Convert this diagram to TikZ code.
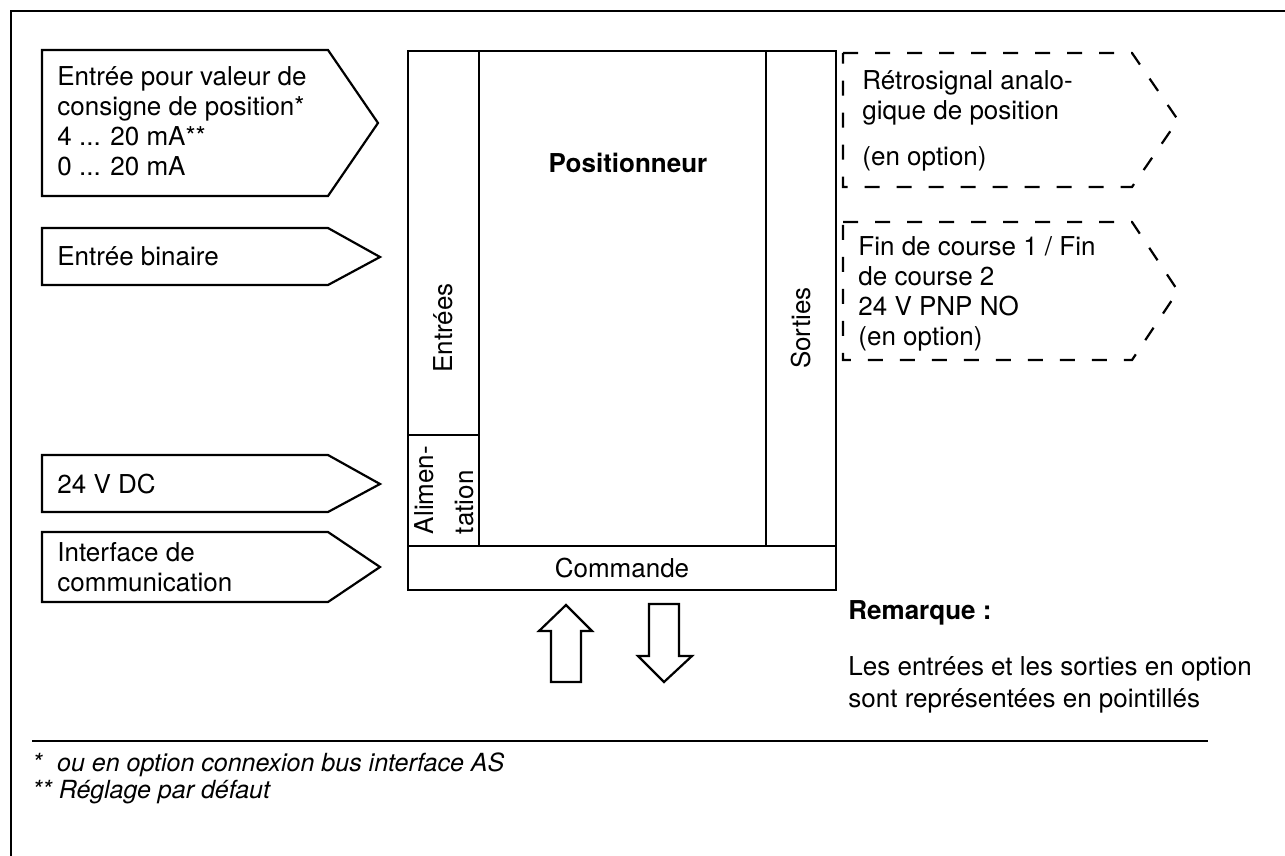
\documentclass[tikz,border=0pt]{standalone}
\usepackage{fontspec}
\setmainfont{TeX Gyre Heros}
\begin{document}
\begin{tikzpicture}[x=0.5pt,y=-0.5pt,
    box/.style={line width=1.1pt,line join=miter},
    optbox/.style={line width=1.1pt,dash pattern=on 7.5pt off 8.5pt},
    txt/.style={anchor=west,inner sep=0pt,align=left,font=\fontsize{13}{15}\selectfont},
    note/.style={anchor=west,inner sep=0pt,font=\fontsize{12.5}{15}\selectfont\itshape}]
  \useasboundingbox (0,0) rectangle (1285,856);
  \draw[line width=0.8pt] (11,856) -- (11,11) -- (1285,11);

  % inputs on the left
  \draw[box] (42,50) -- (328,50) -- (378,123) -- (328,196) -- (42,196) -- cycle;
  \node[txt] (setpoint) at (57,121) {Entrée pour valeur de\\consigne de position*\\4 ... 20 mA**\\0 ... 20 mA};
  \draw[box] (42,228) -- (328,228) -- (380,257) -- (328,285) -- (42,285) -- cycle;
  \node[txt] (binary) at (57,256) {Entrée binaire};
  \draw[box] (42,455) -- (328,455) -- (380,484) -- (328,512) -- (42,512) -- cycle;
  \node[txt] (supply) at (57,484) {24 V DC};
  \draw[box] (42,532) -- (328,532) -- (380,567) -- (328,602) -- (42,602) -- cycle;
  \node[txt] (comm) at (57,567) {Interface de\\communication};

  % positioner block
  \draw[box] (408,51) rectangle (836,590);
  \draw[box] (479,51) -- (479,546);
  \draw[box] (766,51) -- (766,546);
  \draw[box] (408,435) -- (479,435);
  \draw[box] (408,546) -- (836,546);
  \node[font=\fontsize{13}{15}\selectfont\bfseries] (posi) at (628,163) {Positionneur};
  \node[font=\fontsize{13}{15}\selectfont,rotate=90] (inputs) at (443,328) {Entrées};
  \node[font=\fontsize{13}{15}\selectfont,rotate=90] (outputs) at (801,328) {Sorties};
  \node[font=\fontsize{13}{20}\selectfont,rotate=90,align=left,inner sep=0pt] (power) at (444,490) {Alimen-\\tation};
  \node[font=\fontsize{13}{15}\selectfont] (control) at (622,568) {Commande};

  % communication arrows
  \draw[box] (551,682) -- (551,631) -- (539,631) -- (566,605) -- (592,631) -- (581,631) -- (581,682) -- cycle;
  \draw[box] (649,604) -- (679,604) -- (679,656) -- (692,656) -- (664,682) -- (638,656) -- (649,656) -- cycle;

  % optional outputs
  \draw[optbox] (843,53) -- (1132,53) -- (1178,120) -- (1132,187) -- (843,187) -- cycle;
  \node[txt] (feedback) at (862,121) {Rétrosignal analo-\\gique de position\\[8pt](en option)};
  \draw[optbox] (843,222) -- (1132,222) -- (1178,291) -- (1132,360) -- (843,360) -- cycle;
  \node[txt] (limits) at (858,294) {Fin de course 1 / Fin\\de course 2\\24 V PNP NO\\(en option)};

  \node[txt,font=\fontsize{13}{15}\selectfont\bfseries] (remark) at (848,613) {Remarque :};
  \node[txt,font=\fontsize{13}{16}\selectfont] (remtext) at (848,685) {Les entrées et les sorties en option\\sont représentées en pointillés};

  % footnotes
  \draw[line width=0.6pt] (32,741) -- (1208,741);
  \node[note] (star1) at (32,765) {*\hspace{0.6em}ou en option connexion bus interface AS};
  \node[note] (star2) at (32,792) {** Réglage par défaut};
\end{tikzpicture}
\end{document}
